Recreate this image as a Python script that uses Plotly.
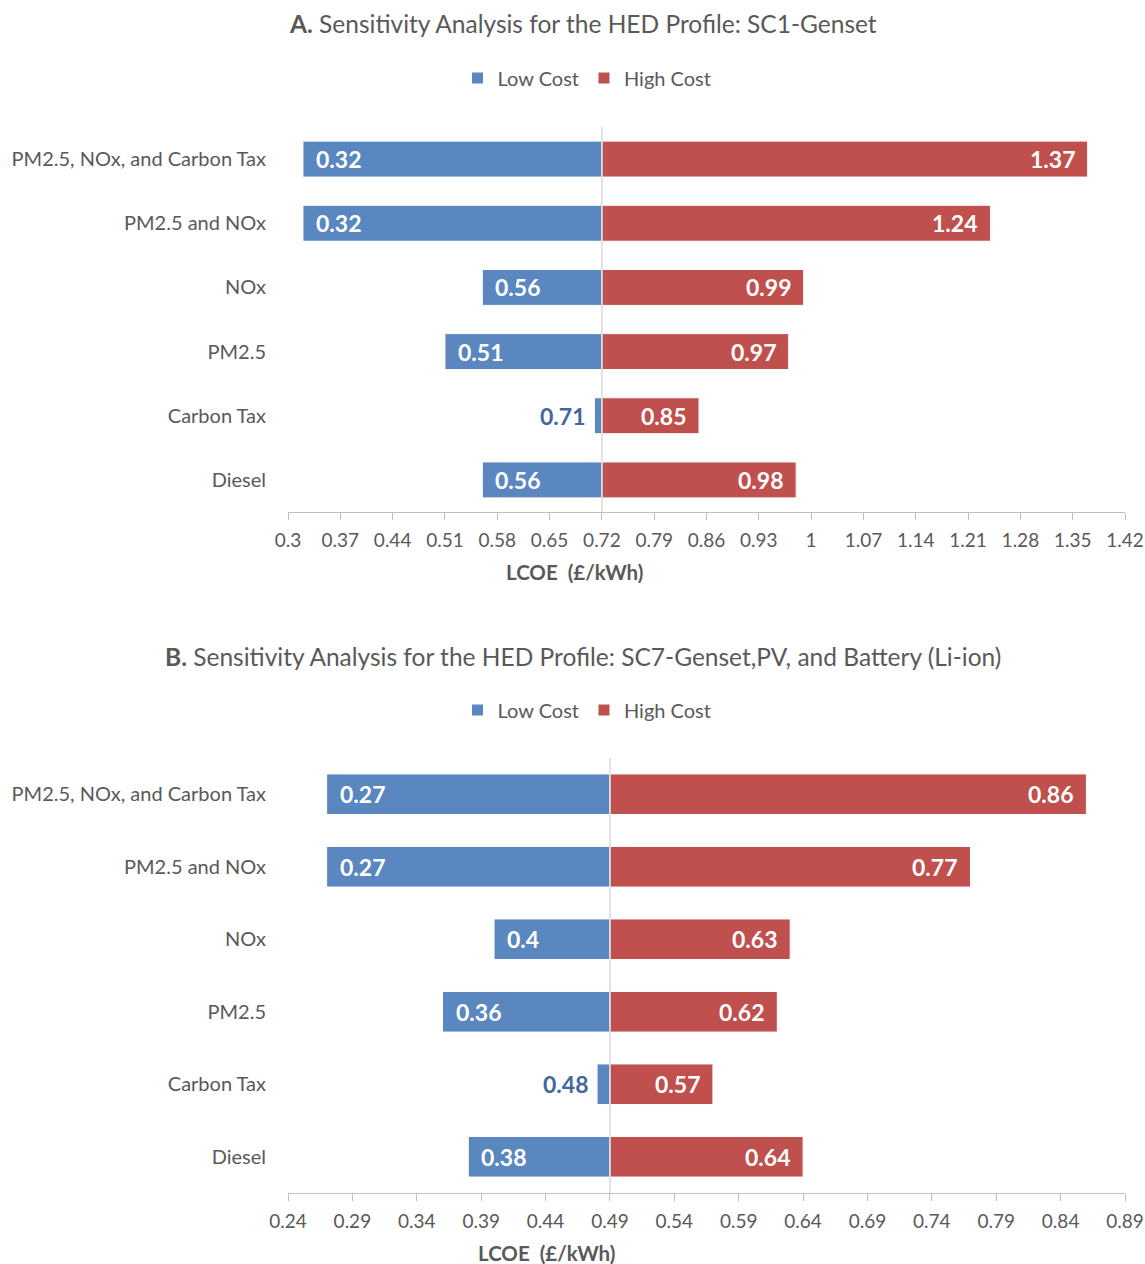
import plotly.graph_objects as go

# ---------------- data ----------------
categories = ["PM2.5, NOx, and Carbon Tax", "PM2.5 and NOx", "NOx", "PM2.5", "Carbon Tax", "Diesel"]

a_base = 0.72
a_low = [0.32, 0.32, 0.56, 0.51, 0.71, 0.56]
a_high = [1.37, 1.24, 0.99, 0.97, 0.85, 0.98]
a_ticks = [0.3, 0.37, 0.44, 0.51, 0.58, 0.65, 0.72, 0.79, 0.86, 0.93, 1.0,
           1.07, 1.14, 1.21, 1.28, 1.35, 1.42]
a_ticktext = ["0.3", "0.37", "0.44", "0.51", "0.58", "0.65", "0.72", "0.79", "0.86", "0.93", "1",
              "1.07", "1.14", "1.21", "1.28", "1.35", "1.42"]

b_base = 0.49
b_low = [0.27, 0.27, 0.40, 0.36, 0.48, 0.38]
b_high = [0.86, 0.77, 0.63, 0.62, 0.57, 0.64]
b_ticks = [0.24, 0.29, 0.34, 0.39, 0.44, 0.49, 0.54, 0.59, 0.64, 0.69, 0.74, 0.79, 0.84, 0.89]
b_ticktext = ["0.24", "0.29", "0.34", "0.39", "0.44", "0.49", "0.54", "0.59", "0.64", "0.69",
              "0.74", "0.79", "0.84", "0.89"]

low_labels_a = ["0.32", "0.32", "0.56", "0.51", "0.71", "0.56"]
high_labels_a = ["1.37", "1.24", "0.99", "0.97", "0.85", "0.98"]
low_labels_b = ["0.27", "0.27", "0.4", "0.36", "0.48", "0.38"]
high_labels_b = ["0.86", "0.77", "0.63", "0.62", "0.57", "0.64"]

title_a = "<b>A.</b> Sensitivity Analysis for the HED Profile: SC1-Genset"
title_b = "<b>B.</b> Sensitivity Analysis for the HED Profile: SC7-Genset,PV, and Battery (Li-ion)"
axis_title = "<b>LCOE&nbsp; (£/kWh)</b>"

# ---------------- style ----------------
FONT = "Lato"
GRAY = "#595959"
BLUE = "#5A87C0"
RED = "#C0504D"
BLUE_TXT = "#44679E"
W, H = 1145, 1264

def py(px):
    return 1 - px / H

fig = go.Figure()

panels = [
    dict(base=a_base, low=a_low, high=a_high, ll=low_labels_a, hl=high_labels_a,
         xa="x", ya="y", legend="legend"),
    dict(base=b_base, low=b_low, high=b_high, ll=low_labels_b, hl=high_labels_b,
         xa="x2", ya="y2", legend="legend2"),
]

annotations = []
for p in panels:
    base = p["base"]
    fig.add_trace(go.Bar(
        y=categories, x=[v - base for v in p["low"]], base=base, orientation="h",
        name="Low Cost", marker=dict(color=BLUE, line=dict(color="white", width=1)),
        width=0.56, xaxis=p["xa"], yaxis=p["ya"], legend=p["legend"], hoverinfo="skip"))
    fig.add_trace(go.Bar(
        y=categories, x=[v - base for v in p["high"]], base=base, orientation="h",
        name="High Cost", marker=dict(color=RED, line=dict(color="white", width=1)),
        width=0.56, xaxis=p["xa"], yaxis=p["ya"], legend=p["legend"], hoverinfo="skip"))
    for cat, v, t in zip(categories, p["low"], p["ll"]):
        if base - v < 0.03:
            annotations.append(dict(x=v, y=cat, xref=p["xa"], yref=p["ya"], text="<b>%s</b>" % t,
                                    showarrow=False, xanchor="right", xshift=-7,
                                    font=dict(family=FONT, size=23, color=BLUE_TXT)))
        else:
            annotations.append(dict(x=v, y=cat, xref=p["xa"], yref=p["ya"], text="<b>%s</b>" % t,
                                    showarrow=False, xanchor="left", xshift=11,
                                    font=dict(family=FONT, size=23, color="white")))
    for cat, v, t in zip(categories, p["high"], p["hl"]):
        annotations.append(dict(x=v, y=cat, xref=p["xa"], yref=p["ya"], text="<b>%s</b>" % t,
                                showarrow=False, xanchor="right", xshift=-11,
                                font=dict(family=FONT, size=23, color="white")))

# titles
annotations.append(dict(x=583 / W, y=py(24), xref="paper", yref="paper", text=title_a,
                        showarrow=False, xanchor="center", yanchor="middle",
                        font=dict(family=FONT, size=24.5, color=GRAY)))
annotations.append(dict(x=583 / W, y=py(656), xref="paper", yref="paper", text=title_b,
                        showarrow=False, xanchor="center", yanchor="middle",
                        font=dict(family=FONT, size=24.5, color=GRAY)))
# axis titles
annotations.append(dict(x=574 / W, y=py(572), xref="paper", yref="paper", text=axis_title,
                        showarrow=False, xanchor="center", yanchor="middle",
                        font=dict(family=FONT, size=20.5, color=GRAY)))
annotations.append(dict(x=546 / W, y=py(1253), xref="paper", yref="paper", text=axis_title,
                        showarrow=False, xanchor="center", yanchor="middle",
                        font=dict(family=FONT, size=20.5, color=GRAY)))

shapes = [
    dict(type="line", xref="x", yref="y domain", x0=a_base, x1=a_base, y0=0, y1=1,
         line=dict(color="#D9D9D9", width=1.5), layer="above"),
    dict(type="line", xref="x2", yref="y2 domain", x0=b_base, x1=b_base, y0=0, y1=1,
         line=dict(color="#D9D9D9", width=1.5), layer="above"),
]

xdom = [288 / W, 1125 / W]
xcommon = dict(showgrid=False, zeroline=False, showline=True, linecolor="#BFBFBF", linewidth=1,
               ticks="outside", ticklen=7, tickcolor="#BFBFBF", automargin=False,
               ticklabelstandoff=4,
               tickfont=dict(family=FONT, size=19, color=GRAY), domain=xdom)
ycommon = dict(showgrid=False, zeroline=False, showline=False, autorange="reversed",
               ticks="outside", ticklen=17, tickcolor="rgba(0,0,0,0)", automargin=False,
               tickfont=dict(family=FONT, size=20, color=GRAY),
               categoryorder="array", categoryarray=categories)

fig.update_layout(
    width=W, height=H, margin=dict(l=0, r=0, t=0, b=0, autoexpand=False),
    paper_bgcolor="white", plot_bgcolor="white",
    barmode="overlay", font=dict(family=FONT, color=GRAY),
    xaxis=dict(xcommon, range=[a_ticks[0], a_ticks[-1]], tickvals=a_ticks, ticktext=a_ticktext,
               anchor="y"),
    yaxis=dict(ycommon, domain=[py(512), py(127)], anchor="x"),
    xaxis2=dict(xcommon, range=[b_ticks[0], b_ticks[-1]], tickvals=b_ticks, ticktext=b_ticktext,
                anchor="y2"),
    yaxis2=dict(ycommon, domain=[py(1193), py(758)], anchor="x2"),
    legend=dict(orientation="h", x=587 / W, y=py(78), xanchor="center", yanchor="middle",
                font=dict(family=FONT, size=20, color=GRAY), itemwidth=30, traceorder="normal",
                bgcolor="rgba(0,0,0,0)"),
    legend2=dict(orientation="h", x=587 / W, y=py(710), xanchor="center", yanchor="middle",
                 font=dict(family=FONT, size=20, color=GRAY), itemwidth=30, traceorder="normal",
                 bgcolor="rgba(0,0,0,0)"),
    annotations=annotations, shapes=shapes, showlegend=True,
)

fig.write_html("out.html")
